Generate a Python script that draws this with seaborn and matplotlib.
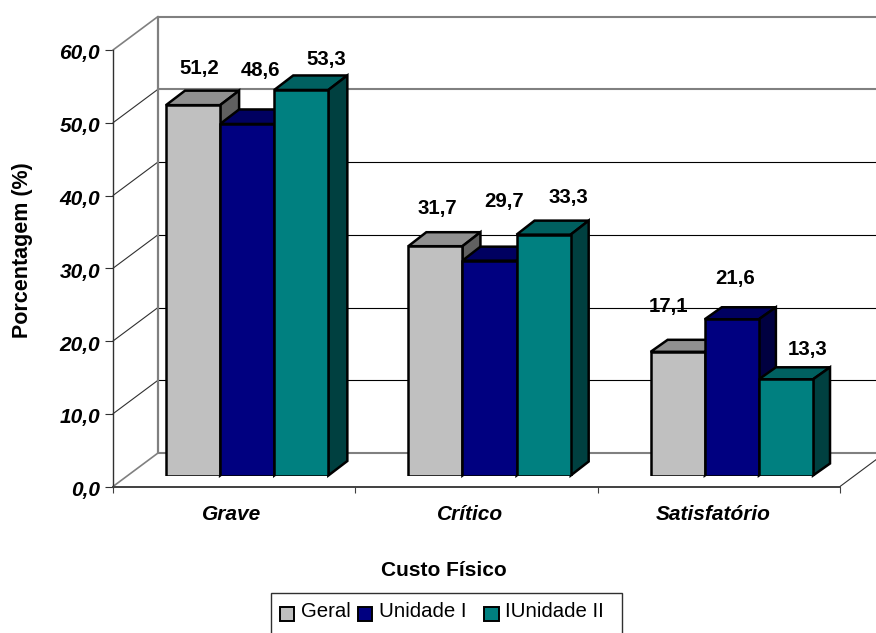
# 3D style column chart: Custo Fisico
import pandas as pd
import seaborn as sns
import matplotlib
matplotlib.use("Agg")
import matplotlib.pyplot as plt
from matplotlib.patches import Polygon, Rectangle
from matplotlib.transforms import ScaledTranslation

categories = ["Grave", "Crítico", "Satisfatório"]
series_names = ["Geral", "Unidade I", "IUnidade II"]
geral = [51.2, 31.7, 17.1]
unidade_1 = [48.6, 29.7, 21.6]
unidade_2 = [53.3, 33.3, 13.3]
y_ticks = [0, 10, 20, 30, 40, 50, 60]
y_tick_labels = ["0,0", "10,0", "20,0", "30,0", "40,0", "50,0", "60,0"]

colors = ["#C0C0C0", "#000080", "#008080"]
top_colors = ["#909090", "#000060", "#006060"]
side_colors = ["#606060", "#000040", "#004040"]

W, H = 876, 633

df = pd.DataFrame({
    "categoria": categories * 3,
    "serie": [s for s in series_names for _ in categories],
    "valor": geral + unidade_1 + unidade_2,
})

sns.set_theme(style="white")
plt.rcParams["font.family"] = ["Liberation Sans", "DejaVu Sans"]

fig = plt.figure(figsize=(W / 100, H / 100), dpi=100)

# front plane, carries the axis
ax = fig.add_axes([113 / W, (H - 486.5) / H, 727 / W, 436.5 / H])
ax.set_xlim(0, 3)
ax.set_ylim(0, 60)
ax.patch.set_visible(False)
for s in ["top", "right"]:
    ax.spines[s].set_visible(False)
ax.spines["left"].set_color("#303030")
ax.spines["left"].set_linewidth(1.0)
ax.spines["bottom"].set_color("#404040")
ax.spines["bottom"].set_linewidth(1.4)

ax.set_yticks(y_ticks, labels=y_tick_labels)
ax.tick_params(axis="y", length=5.8, width=0.8, color="#303030", pad=3.5, left=True)
ax.set_xticks([0, 1, 2, 3], labels=[])
ax.tick_params(axis="x", which="major", length=4.5, width=0.8, color="#404040", bottom=True)
ax.set_xticks([0.49, 1.475, 2.475], labels=categories, minor=True)
ax.tick_params(axis="x", which="minor", length=0, pad=13)
for t in ax.get_yticklabels() + ax.get_xticklabels(minor=True):
    t.set_fontsize(15)
    t.set_fontweight("bold")
    t.set_fontstyle("italic")
    t.set_color("black")
# y labels sit a bit under their ticks in the original
for t in ax.get_yticklabels():
    t.set_transform(t.get_transform() + ScaledTranslation(0, -2 / 100, fig.dpi_scale_trans))

ax.set_ylabel("Porcentagem (%)", fontsize=15.5, fontweight="bold", color="black", va="center")
ax.yaxis.set_label_coords((23 - 113) / 727, (486.5 - 250) / 436.5)
ax.set_xlabel("Custo Físico", fontsize=15, fontweight="bold", color="black", va="center")
ax.xaxis.set_label_coords((444 - 113) / 727, -(570 - 486.5) / 436.5)

# back wall and floor, shifted from the front plane
wall_dx = 45 / 727 * 3
wall_dy = 33.5 / 436.5 * 60
for t in y_ticks:
    soft = t in (0, 50, 60)
    col = "#808080" if soft else "black"
    lw = 1.5 if soft else 0.8
    ax.plot([wall_dx, 3 + wall_dx], [t + wall_dy, t + wall_dy], color=col, lw=lw, clip_on=False, zorder=1)
    diag = "#808080" if t in (0, 60) else "#303030"
    ax.plot([0, wall_dx], [t, t + wall_dy], color=diag, lw=1.2 if t in (0, 60) else 0.8, clip_on=False, zorder=1)
ax.plot([wall_dx, wall_dx], [wall_dy, 60 + wall_dy], color="#808080", lw=1.6, clip_on=False, zorder=1)
ax.plot([3, 3 + wall_dx], [0, wall_dy], color="#303030", lw=0.8, clip_on=False, zorder=1)

# bars sit on a plane a little behind the front one
ax2 = fig.add_axes([126 / W, (H - 475.5) / H, 727 / W, 434 / H])
sns.barplot(data=df, x="categoria", y="valor", hue="serie", order=categories,
            hue_order=series_names, palette=colors, saturation=1, width=0.67, gap=0,
            edgecolor="black", linewidth=1.8, ax=ax2, zorder=4)
ax2.set_xlim(-0.5, 2.5)
ax2.set_ylim(0, 60)

# depth of the bars in pixels, per group
depth_x = [19, 18, 17]
depth_y = [14.5, 14, 12]
for s, container in enumerate(ax2.containers):
    for c, bar in enumerate(container):
        dx = depth_x[c] / 727 * 3
        dy = depth_y[c] / 434 * 60
        x0, x1 = bar.get_x(), bar.get_x() + bar.get_width()
        h = bar.get_height()
        ax2.add_patch(Polygon([(x0, h), (x0 + dx, h + dy), (x1 + dx, h + dy), (x1, h)],
                              facecolor=top_colors[s], edgecolor="black", lw=1.8,
                              zorder=3, clip_on=False, joinstyle="miter"))
        ax2.add_patch(Polygon([(x1, 0), (x1 + dx, dy), (x1 + dx, h + dy), (x1, h)],
                              facecolor=side_colors[s], edgecolor="black", lw=1.8,
                              zorder=3, clip_on=False, joinstyle="miter"))

# value labels, offset by hand in pixels like the original
label_offsets = [[(6, 37), (1.5, 38), (-9.5, 45)],
                 [(13, 53), (15, 59), (3, 41)],
                 [(25, 30), (24.5, 37), (22, 30)]]
for s, container in enumerate(ax2.containers):
    for c, bar in enumerate(container):
        off = label_offsets[s][c]
        txt = f"{bar.get_height():.1f}".replace(".", ",")
        ax2.annotate(txt, (bar.get_x() + bar.get_width() / 2, bar.get_height()),
                     xytext=(off[0] * 0.72, off[1] * 0.72), textcoords="offset points",
                     ha="center", va="center", fontsize=14.7, fontweight="bold",
                     color="black", annotation_clip=False, zorder=6)

# legend box runs off the bottom of the picture
fig.add_artist(Rectangle((271 / W, -0.02), 351 / W, (H - 593) / H + 0.02, transform=fig.transFigure,
                         facecolor="white", edgecolor="#303030", lw=1.0, zorder=-1))
sns.move_legend(ax2, "center left", bbox_to_anchor=(280 / W, (H - 611.5) / H),
                bbox_transform=fig.transFigure, title=None, frameon=False, ncol=3,
                fontsize=14.7, handlelength=0.69, handleheight=0.65, handletextpad=0.34,
                columnspacing=0.34, borderpad=0, borderaxespad=0, labelcolor="black")
leg = ax2.get_legend()
leg.set_zorder(10)
leg.get_texts()[1].set_text("Unidade I  ")
for p in leg.get_patches():
    p.set_edgecolor("black")
    p.set_linewidth(1.4)
    p.set_y(p.get_y() - 3)

ax2.axis("off")
ax2.patch.set_visible(False)

fig.savefig("out.png", dpi=100)
